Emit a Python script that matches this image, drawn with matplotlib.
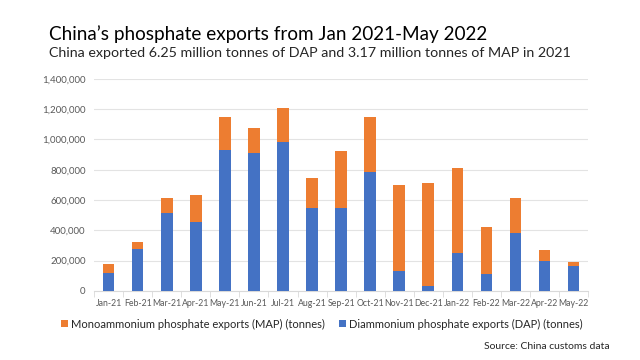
import matplotlib
matplotlib.use('Agg')
import matplotlib.pyplot as plt
import numpy as np
from matplotlib.ticker import FuncFormatter

plt.rcParams['font.family'] = ['Lato', 'DejaVu Sans']

# data (tonnes)
months = ['Jan-21', 'Feb-21', 'Mar-21', 'Apr-21', 'May-21', 'Jun-21', 'Jul-21', 'Aug-21',
          'Sep-21', 'Oct-21', 'Nov-21', 'Dec-21', 'Jan-22', 'Feb-22', 'Mar-22', 'Apr-22', 'May-22']
dap = [120000, 277000, 515000, 453000, 929000, 911000, 982000, 550000,
       550000, 788000, 130000, 35000, 249000, 114000, 379000, 196000, 163000]
map_ = [55000, 49000, 101000, 177000, 216000, 163000, 226000, 196000,
        372000, 361000, 570000, 674000, 563000, 309000, 233000, 75000, 26000]

blue = '#4472C4'
orange = '#ED7D31'
grey = '#595959'

fig = plt.figure(figsize=(6.4, 3.6), dpi=100)
ax = fig.add_axes([0.147, 0.192, 0.772, 0.589])

x = np.arange(len(months))
ax.bar(x, dap, width=0.4, color=blue, label='Diammonium phosphate exports (DAP) (tonnes)', zorder=3)
ax.bar(x, map_, bottom=dap, width=0.4, color=orange,
       label='Monoammonium phosphate exports (MAP) (tonnes)', zorder=3)

ax.set_ylim(0, 1400000)
ax.set_yticks(np.arange(0, 1400001, 200000))
ax.yaxis.set_major_formatter(FuncFormatter(lambda v, p: f'{int(v):,}'))
ax.set_xlim(-0.5, len(months) - 0.5)
ax.set_xticks(x)
ax.set_xticklabels(months)
ax.set_xticks(np.arange(-0.5, len(months), 1), minor=True)
ax.tick_params(axis='x', which='major', length=0, labelsize=6.3, colors=grey, pad=6)
ax.tick_params(axis='x', which='minor', length=4, color='#d9d9d9')
ax.tick_params(axis='y', length=0, labelsize=7, colors=grey, pad=6)

ax.grid(axis='y', color='#e3e3e3', linewidth=0.8, zorder=0)
for s in ['top', 'right', 'left']:
    ax.spines[s].set_visible(False)
ax.spines['bottom'].set_color('#d9d9d9')

fig.text(0.077, 0.888, 'China\u2019s phosphate exports from Jan 2021-May 2022',
         fontsize=13.6, color='black', va='baseline')
fig.text(0.077, 0.842, 'China exported 6.25 million tonnes of DAP and 3.17 million tonnes of MAP in 2021',
         fontsize=10.3, color='#262626', va='baseline')

handles, labels = ax.get_legend_handles_labels()
fig.legend(handles[::-1], labels[::-1], loc='center', bbox_to_anchor=(0.503, 0.1), ncol=2,
           frameon=False, fontsize=8, handlelength=0.6, handleheight=0.6,
           handletextpad=0.3, columnspacing=1.3, labelcolor='#262626')

fig.text(0.953, 0.03, 'Source: China customs data', fontsize=7.5, color='#262626', ha='right')

fig.savefig('out.png', dpi=100)
